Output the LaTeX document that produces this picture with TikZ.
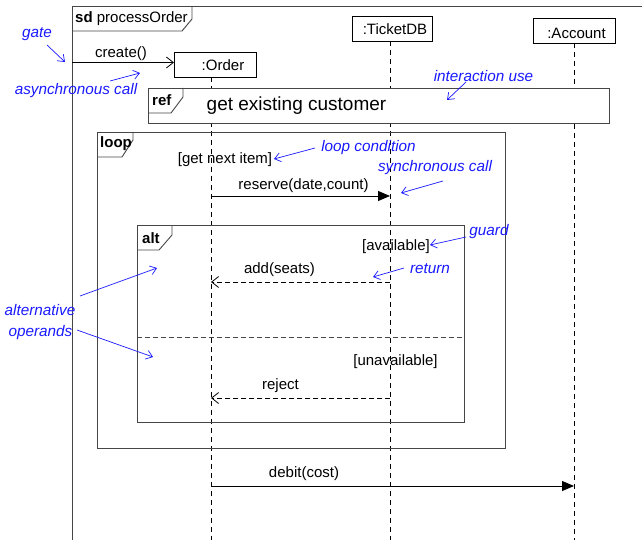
\documentclass[tikz,border=0pt]{standalone}
\usepackage{fontspec}
\setmainfont{Liberation Sans}
\usetikzlibrary{arrows.meta}
\definecolor{annot}{RGB}{25,25,255}
\definecolor{framec}{RGB}{70,70,70}
\begin{document}
\begin{tikzpicture}[x=1pt,y=-1pt,
  lbl/.style={inner sep=0pt,font=\fontsize{15}{18}\selectfont},
  tagtxt/.style={inner sep=0pt,anchor=west,font=\fontsize{15}{18}\selectfont\bfseries},
  note/.style={inner sep=0pt,text=annot,font=\fontsize{15.3}{18}\selectfont\itshape},
  notearrow/.style={draw=annot,line width=0.7pt,-{Straight Barb[length=6pt,width=9pt]}},
  headbox/.style={draw,line width=0.8pt,fill=white,inner sep=0pt},
  lifeline/.style={line width=0.8pt,dash pattern=on 5pt off 4pt},
  frm/.style={draw=framec,line width=0.9pt},
  asyncmsg/.style={line width=0.8pt,-{Straight Barb[length=7pt,width=11pt]}},
  syncmsg/.style={line width=0.8pt,-{Triangle[length=12pt,width=10pt]}},
  retmsg/.style={line width=0.8pt,dash pattern=on 5pt off 3pt,-{Straight Barb[length=7pt,width=11pt]}}
]
\useasboundingbox (0,0) rectangle (642,540);

% sd frame
\draw[frm] (642,6) -- (72,6) -- (72,540);
\draw[frm] (72,31) -- (182,31) -- (192,19) -- (192,6);
\node[tagtxt] (sdlbl) at (75,19) {sd \mdseries processOrder};

% lifeline heads
\node[headbox,minimum width=82pt,minimum height=25pt] (order) at (215,64.5) {};
\node[lbl] (orderlbl) at (223,65) {:Order};
\node[headbox,minimum width=80pt,minimum height=25pt] (ticket) at (392,28.5) {};
\node[lbl] (ticketlbl) at (395,29) {:TicketDB};
\node[headbox,minimum width=82pt,minimum height=25pt] (account) at (574,30.5) {};
\node[lbl] (accountlbl) at (576.5,33.5) {:Account};

% lifelines
\coordinate (oTop) at (211,77);
\coordinate (oBot) at (211,540);
\coordinate (tTop) at (390,41);
\coordinate (tBot) at (390,540);
\coordinate (aTop) at (574,43);
\coordinate (aBot) at (574,540);
\draw[lifeline] (oTop) -- (oBot);
\draw[lifeline] (tTop) -- (tBot);
\draw[lifeline] (aTop) -- (aBot);

% gate and create()
\coordinate (gate) at (72,62.5);
\coordinate (orderIn) at (174,62.5);
\draw[asyncmsg] (gate) -- (orderIn);
\node[lbl] (createlbl) at (121,54) {create()};

% ref frame
\draw[frm,fill=white] (148,88) rectangle (609,123);
\draw[frm] (148,113) -- (171,113) -- (183,97) -- (183,88);
\node[tagtxt] (reflbl) at (152,100) {ref};
\node[inner sep=0pt,font=\fontsize{19}{22}\selectfont] (refname) at (296.5,106) {get existing customer};

% loop frame
\draw[frm] (97,132) rectangle (505,448);
\draw[frm] (97,157) -- (122,157) -- (133,140) -- (133,132);
\node[tagtxt] (looplbl) at (100,144) {loop};
\node[lbl] (loopcond) at (225,160) {[get next item]};

% reserve
\coordinate (o1) at (211,196);
\coordinate (t1) at (390,196);
\draw[syncmsg] (o1) -- (t1);
\node[lbl] (reservelbl) at (303.5,186) {reserve(date,count)};

% alt frame
\draw[frm] (137,225) rectangle (464,422);
\draw[frm] (137,250) -- (159,250) -- (172,235) -- (172,225);
\node[tagtxt] (altlbl) at (142,238) {alt};
\coordinate (sepL) at (137,337);
\coordinate (sepR) at (464,337);
\draw[framec,line width=0.9pt,dash pattern=on 5pt off 3pt] (sepL) -- (sepR);
\node[lbl] (guard1) at (396,247) {[available]};
\node[lbl] (guard2) at (395.5,362) {[unavailable]};

% returns
\coordinate (t2) at (390,282);
\coordinate (o2) at (211,282);
\draw[retmsg] (t2) -- (o2);
\node[lbl] (addlbl) at (279.5,270) {add(seats)};
\coordinate (t3) at (390,398);
\coordinate (o3) at (211,398);
\draw[retmsg] (t3) -- (o3);
\node[lbl] (rejectlbl) at (280.5,386) {reject};

% debit
\coordinate (o4) at (211,486);
\coordinate (a4) at (574,486);
\draw[syncmsg] (o4) -- (a4);
\node[lbl] (debitlbl) at (304,474) {debit(cost)};

% annotations
\node[note] (ngate) at (37,34) {gate};
\coordinate (ngateS) at (47,45); \coordinate (ngateE) at (65,62);
\draw[notearrow] (ngateS) -- (ngateE);

\node[note] (nasync) at (76,91) {asynchronous call};
\coordinate (nasyncS) at (110,81); \coordinate (nasyncE) at (140,73);
\draw[notearrow] (nasyncS) -- (nasyncE);

\node[note] (nuse) at (483.5,76) {interaction use};
\coordinate (nuseS) at (466,82); \coordinate (nuseE) at (447,100);
\draw[notearrow] (nuseS) -- (nuseE);

\node[note] (ncond) at (368.5,148) {loop condition};
\coordinate (ncondS) at (315,148); \coordinate (ncondE) at (274,159);
\draw[notearrow] (ncondS) -- (ncondE);

\node[note] (nsync) at (435,168) {synchronous call};
\coordinate (nsyncS) at (443,181); \coordinate (nsyncE) at (401,193);
\draw[notearrow] (nsyncS) -- (nsyncE);

\node[note] (nguard) at (489,232) {guard};
\coordinate (nguardS) at (466,237); \coordinate (nguardE) at (430,245);
\draw[notearrow] (nguardS) -- (nguardE);

\node[note] (nret) at (430,269) {return};
\coordinate (nretS) at (404,268); \coordinate (nretE) at (373,277);
\draw[notearrow] (nretS) -- (nretE);

\node[note] (nalt1) at (40,310) {alternative};
\node[note] (nalt2) at (40.5,333) {operands};
\coordinate (nalt1S) at (80,296); \coordinate (nalt1E) at (157,268);
\draw[notearrow] (nalt1S) -- (nalt1E);
\coordinate (nalt2S) at (77,330); \coordinate (nalt2E) at (153,357);
\draw[notearrow] (nalt2S) -- (nalt2E);
\end{tikzpicture}
\end{document}
